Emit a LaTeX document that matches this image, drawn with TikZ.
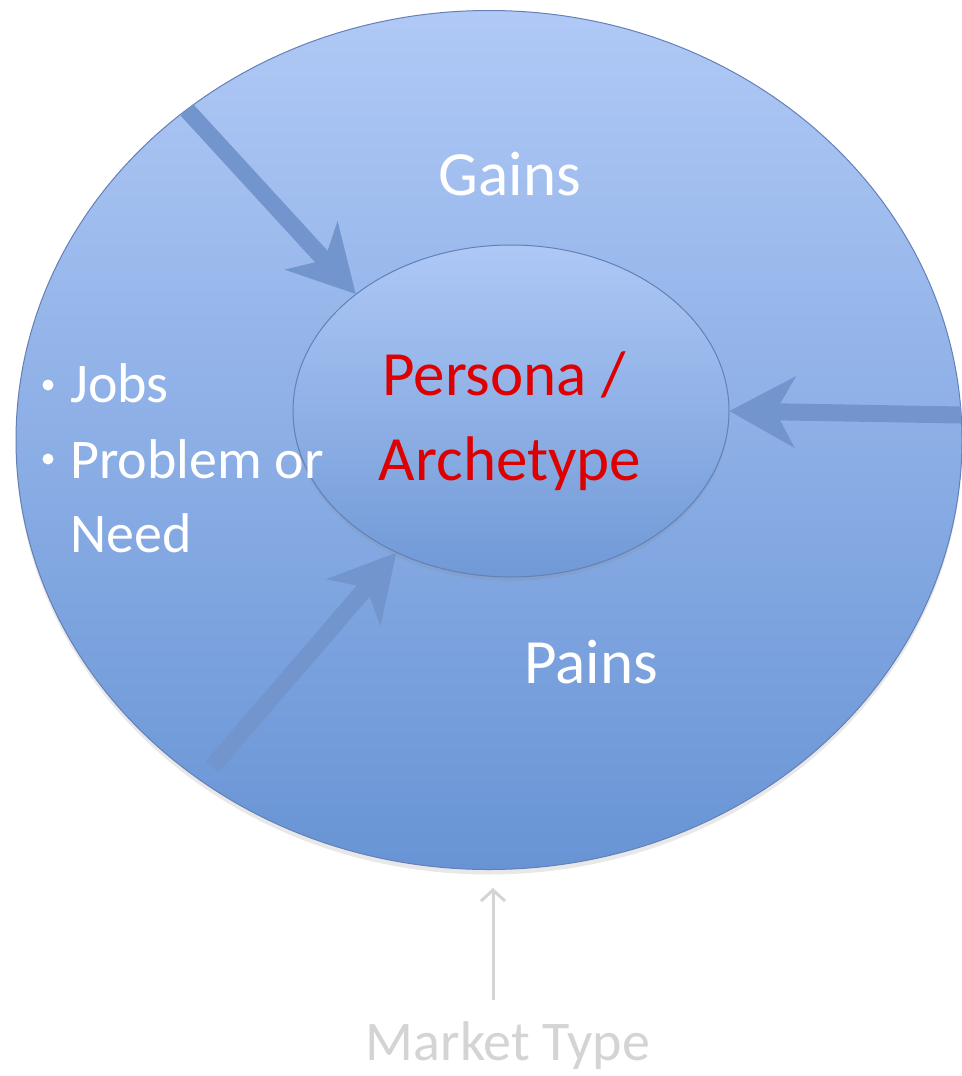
\documentclass[tikz,border=0pt]{standalone}
\usepackage{fontspec}
\setmainfont{Carlito}
\usetikzlibrary{shapes.geometric,arrows.meta,shadows}
\definecolor{outtop}{RGB}{176,201,246}
\definecolor{outbot}{RGB}{104,148,213}
\definecolor{intop}{RGB}{174,200,246}
\definecolor{inbot}{RGB}{112,153,214}
\definecolor{rimblue}{RGB}{100,128,182}
\definecolor{arrowblue}{RGB}{114,149,205}
\definecolor{personared}{RGB}{222,0,0}
\definecolor{marketgray}{RGB}{212,212,212}
\begin{document}
\begin{tikzpicture}[x=1pt,y=-1pt,
  bigarrow/.style={draw=arrowblue, line width=17pt,
    -{Stealth[length=66pt,width=72pt,inset=20pt,line width=0pt,fill=arrowblue]}},
  bigtext/.style={inner sep=0pt, font=\fontsize{63}{76}\selectfont},
  smalltext/.style={inner sep=0pt, text=white, font=\fontsize{56}{70}\selectfont},
  bulletdot/.style={circle, fill=white, inner sep=0pt, minimum size=11pt},
  marktext/.style={inner sep=0pt, text=marketgray, font=\fontsize{56}{70}\selectfont},
  mtarrow/.style={draw=marketgray, line width=3pt,
    -{Straight Barb[length=11pt,width=24pt,line width=3pt]}}
]
\useasboundingbox (0,0) rectangle (961,1076);
\fill[white] (0,0) rectangle (961,1076);

% outer ellipse
\node[ellipse, inner sep=0pt, minimum width=946pt, minimum height=859pt,
      draw=rimblue, line width=1pt, top color=outtop, bottom color=outbot,
      drop shadow={opacity=0.18, shadow xshift=0pt, shadow yshift=-5pt}]
      (out) at (489,440) {};

% inner ellipse
\node[ellipse, inner sep=0pt, minimum width=436pt, minimum height=332pt,
      draw=rimblue, line width=1pt, top color=intop, bottom color=inbot,
      drop shadow={opacity=0.15, shadow xshift=0pt, shadow yshift=-4pt}]
      (in) at (511,411) {};

% arrow start points
\coordinate (s1) at (187,110);
\coordinate (s2) at (961,415);
\coordinate (s3) at (212,767);

\draw[bigarrow] (s1) -- (in.143);
\draw[bigarrow] (s2) -- (in.east);
\draw[bigarrow] (s3) -- (in.231);

% texts
\node[bigtext, text=white, anchor=base] (gains) at (510,195) {Gains};
\node[bigtext, text=white, anchor=base] (pains) at (591,683) {Pains};
\node[bigtext, text=personared, anchor=base] (persona) at (504,395) {Persona /};
\node[bigtext, text=personared, anchor=base] (arche) at (510,480) {Archetype};

\node[bulletdot] (b1) at (48,385) {};
\node[bulletdot] (b2) at (48,459) {};
\node[smalltext, anchor=base west] (jobs) at (70,402) {Jobs};
\node[smalltext, anchor=base west] (prob) at (70,478) {Problem or};
\node[smalltext, anchor=base west] (need) at (70,552) {Need};

% market type
\node[marktext, anchor=base] (market) at (508,1060) {Market Type};
\coordinate (mtbase) at (493,1000);
\draw[mtarrow, shorten >=18pt] (mtbase) -- (mtbase |- out.south);
\end{tikzpicture}
\end{document}
